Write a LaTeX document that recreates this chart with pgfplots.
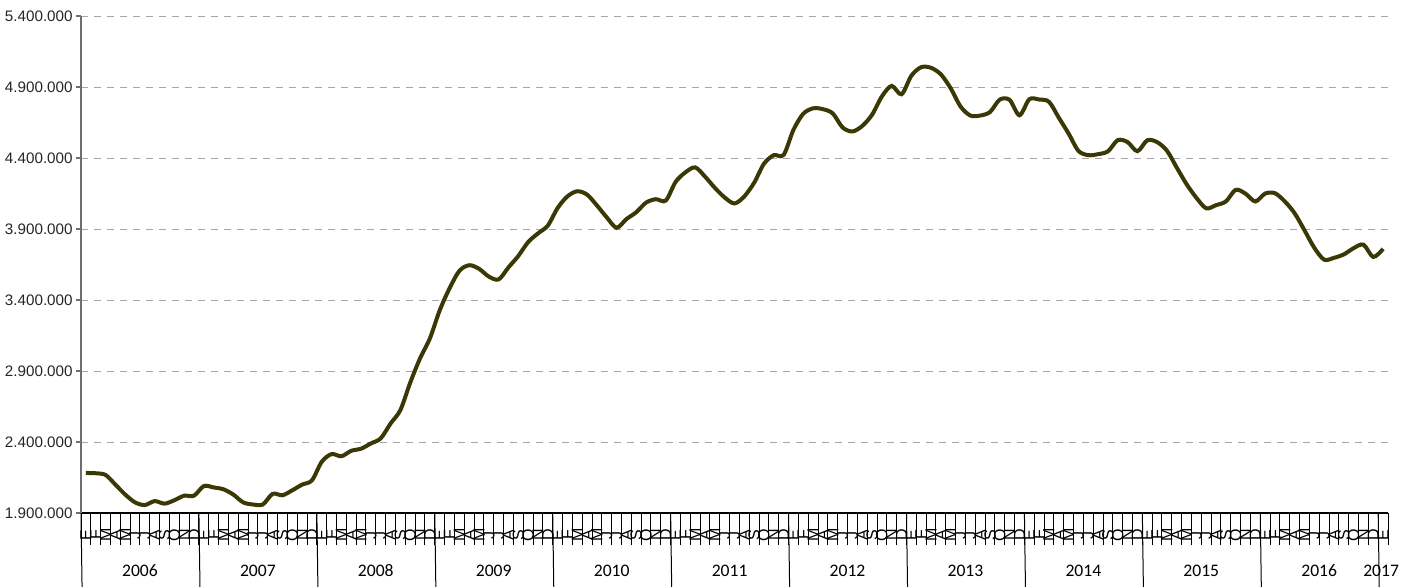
\documentclass[border=0pt]{standalone}
\usepackage{fontspec}
\setmainfont{Liberation Sans}
\newfontfamily\carlito{Carlito}
\usepackage{pgfplots}
\pgfplotsset{compat=1.18}
\definecolor{curve}{RGB}{58,56,5}
\definecolor{gridc}{RGB}{165,165,165}
\definecolor{yax}{RGB}{110,110,110}
\tikzset{yrlab/.style={font=\carlito\fontsize{8.8}{10}\selectfont, anchor=center, yshift=-29pt}}
\begin{document}
\begin{tikzpicture}
\useasboundingbox (-40.5pt,-36.5pt) rectangle (668.5pt,256.5pt);
\begin{axis}[
  at={(0,0)}, anchor=south west,
  scale only axis, width=653.5pt, height=248.5pt,
  xmin=-0.5, xmax=132.5, ymin=1900, ymax=5400,
  axis x line*=bottom, axis y line*=left,
  x axis line style={black, line width=0.6pt, -},
  y axis line style={yax, line width=0.6pt, -},
  clip=false,
  tick align=outside,
  major tick length=2.5pt,
  minor tick length=16pt,
  ytick={1900,2400,...,5400},
  yticklabels={1.900.000,2.400.000,2.900.000,3.400.000,3.900.000,4.400.000,4.900.000,5.400.000},
  yticklabel style={font=\fontsize{7.6}{9}\selectfont, text=black!85, inner sep=1.5pt},
  ytick style={yax, line width=0.6pt},
  ymajorgrids,
  major grid style={gridc, dash pattern=on 3.5pt off 3pt, line width=0.5pt},
  xtick={0,...,132},
  xticklabels={E,F,M,A,M,J,J,A,S,O,N,D,E,F,M,A,M,J,J,A,S,O,N,D,E,F,M,A,M,J,J,A,S,O,N,D,E,F,M,A,M,J,J,A,S,O,N,D,E,F,M,A,M,J,J,A,S,O,N,D,E,F,M,A,M,J,J,A,S,O,N,D,E,F,M,A,M,J,J,A,S,O,N,D,E,F,M,A,M,J,J,A,S,O,N,D,E,F,M,A,M,J,J,A,S,O,N,D,E,F,M,A,M,J,J,A,S,O,N,D,E,F,M,A,M,J,J,A,S,O,N,D,E},
  major x tick style={draw=none},
  minor xtick={-0.5,0.5,...,132.5},
  minor x tick style={black, line width=0.5pt},
  xticklabel style={font=\fontsize{8}{8}\selectfont, rotate=90, anchor=center, inner sep=0pt},
  xticklabel shift=8.5pt,
]
\addplot[curve, line width=2pt, smooth, tension=0.5] coordinates {
(0,2182)(1,2180)(2,2168)(3,2100)(4,2030)(5,1975)(6,1956)(7,1984)(8,1966)(9,1990)(10,2022)(11,2022)
(12,2090)(13,2080)(14,2067)(15,2030)(16,1975)(17,1960)(18,1960)(19,2035)(20,2025)(21,2060)(22,2100)(23,2130)
(24,2261)(25,2315)(26,2300)(27,2338)(28,2353)(29,2390)(30,2426)(31,2530)(32,2625)(33,2818)(34,2989)(35,3129)
(36,3327)(37,3482)(38,3605)(39,3645)(40,3620)(41,3565)(42,3545)(43,3630)(44,3710)(45,3808)(46,3869)(47,3924)
(48,4048)(49,4130)(50,4166)(51,4142)(52,4066)(53,3982)(54,3909)(55,3970)(56,4018)(57,4086)(58,4110)(59,4100)
(60,4231)(61,4299)(62,4334)(63,4269)(64,4190)(65,4122)(66,4080)(67,4130)(68,4226)(69,4360)(70,4420)(71,4422)
(72,4599)(73,4712)(74,4750)(75,4744)(76,4714)(77,4615)(78,4587)(79,4626)(80,4705)(81,4834)(82,4908)(83,4849)
(84,4980)(85,5040)(86,5035)(87,4989)(88,4891)(89,4763)(90,4699)(91,4699)(92,4724)(93,4812)(94,4809)(95,4701)
(96,4814)(97,4812)(98,4796)(99,4684)(100,4572)(101,4450)(102,4420)(103,4427)(104,4447)(105,4526)(106,4512)(107,4448)
(108,4525)(109,4512)(110,4452)(111,4333)(112,4216)(113,4120)(114,4046)(115,4068)(116,4094)(117,4176)(118,4149)(119,4094)
(120,4150)(121,4152)(122,4094)(123,4011)(124,3891)(125,3768)(126,3684)(127,3697)(128,3721)(129,3765)(130,3790)(131,3703)
(132,3760)
};
\pgfplotsinvokeforeach{-0.5,11.5,...,131.5}{
  \draw[black, line width=0.5pt] (axis cs:#1,1900) -- ++(0,-36.5pt);
}
\node[yrlab] at (axis cs:5.5,1900) {2006};
\node[yrlab] at (axis cs:17.5,1900) {2007};
\node[yrlab] at (axis cs:29.5,1900) {2008};
\node[yrlab] at (axis cs:41.5,1900) {2009};
\node[yrlab] at (axis cs:53.5,1900) {2010};
\node[yrlab] at (axis cs:65.5,1900) {2011};
\node[yrlab] at (axis cs:77.5,1900) {2012};
\node[yrlab] at (axis cs:89.5,1900) {2013};
\node[yrlab] at (axis cs:101.5,1900) {2014};
\node[yrlab] at (axis cs:113.5,1900) {2015};
\node[yrlab] at (axis cs:125.5,1900) {2016};
\node[yrlab] at (axis cs:131.8,1900) {2017};
\end{axis}
\end{tikzpicture}
\end{document}
